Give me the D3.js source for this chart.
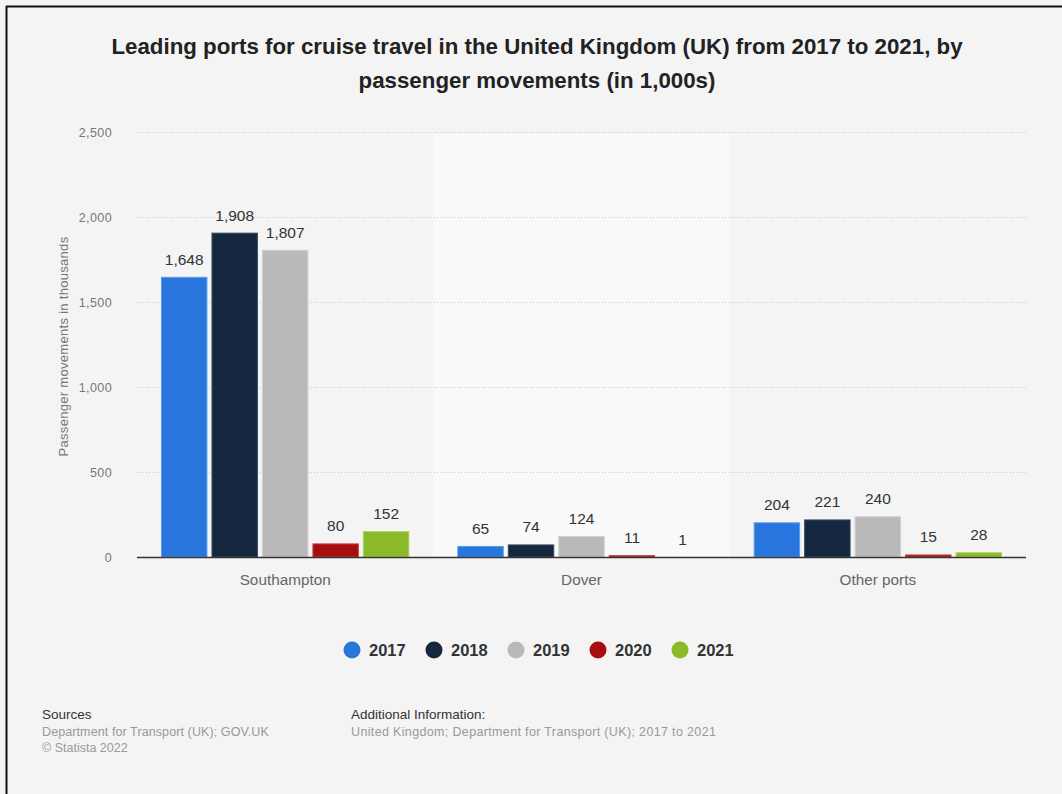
<!DOCTYPE html>
<html>
<head>
<meta charset="utf-8">
<script src="https://cdn.jsdelivr.net/npm/d3@7"></script>
<style>
html, body { margin: 0; padding: 0; background: #fff; }
svg { display: block; font-family: "Liberation Sans", Arial, sans-serif; }
</style>
</head>
<body>
<svg id="chart" width="1062" height="794"></svg>
<script>
// data
const ports = ['Southampton', 'Dover', 'Other ports'];
const years = ['2017', '2018', '2019', '2020', '2021'];
const colors = ['#2876dd', '#14273f', '#b9b9b9', '#a80c0c', '#8aba27'];
const strokes = ['#5b9ae8', '#3a4a60', '#d0d0d0', '#c24545', '#aad35c'];
const values = {
  Southampton: [1648, 1908, 1807, 80, 152],
  Dover: [65, 74, 124, 11, 1],
  'Other ports': [204, 221, 240, 15, 28]
};
const yTicks = [0, 500, 1000, 1500, 2000, 2500];

const svg = d3.select('#chart');
const W = 1062, H = 794;

// background + frame
svg.append('rect').attr('width', W).attr('height', H).attr('fill', '#f4f4f4');
svg.append('line').attr('x1', 6.5).attr('x2', 6.5).attr('y1', 6).attr('y2', H).attr('stroke', '#111').attr('stroke-width', 2);
svg.append('line').attr('x1', 6).attr('x2', W).attr('y1', 6.5).attr('y2', 6.5).attr('stroke', '#111').attr('stroke-width', 2);

// title
const title = svg.append('text').attr('text-anchor', 'middle').attr('font-weight', 'bold')
  .attr('font-size', 22.3).attr('fill', '#222');
title.append('tspan').attr('x', 537).attr('y', 54).text('Leading ports for cruise travel in the United Kingdom (UK) from 2017 to 2021, by');
title.append('tspan').attr('x', 537).attr('y', 88).text('passenger movements (in 1,000s)');

const m = { left: 137, right: 1026, top: 132, bottom: 557 };

const x0 = d3.scaleBand().domain(ports).range([m.left, m.right]);
const x1 = d3.scaleBand().domain(years).range([24, x0.bandwidth() - 24]).paddingInner(0.08);
const y = d3.scaleLinear().domain([0, 2500]).range([m.bottom, m.top]);

// highlight middle band
svg.append('rect').attr('x', x0('Dover')).attr('y', m.top + 2)
  .attr('width', x0.bandwidth()).attr('height', m.bottom - m.top - 2).attr('fill', '#f9f9f9');

// grid
const grid = svg.append('g');
grid.selectAll('line').data(yTicks.filter(d => d > 0)).join('line')
  .attr('x1', m.left).attr('x2', m.right)
  .attr('y1', d => y(d) + 0.5).attr('y2', d => y(d) + 0.5)
  .attr('stroke', '#c8c8c8').attr('stroke-dasharray', '1,2');

// y axis
const yAxis = svg.append('g').attr('transform', `translate(${m.left - 22},0)`)
  .call(d3.axisLeft(y).tickValues(yTicks).tickSize(0).tickFormat(d3.format(',')));
yAxis.select('.domain').remove();
yAxis.selectAll('text').attr('font-size', 12.5).attr('letter-spacing', 0.4).attr('fill', '#777')
  .attr('font-family', '"Liberation Sans", Arial, sans-serif');

svg.append('text').attr('transform', `translate(68,${(m.top + m.bottom) / 2 + 2}) rotate(-90)`)
  .attr('text-anchor', 'middle').attr('font-size', 13).attr('letter-spacing', 0.3).attr('fill', '#777')
  .text('Passenger movements in thousands');

// bars
const groups = svg.append('g').selectAll('g').data(ports).join('g')
  .attr('transform', d => `translate(${x0(d)},0)`);

groups.selectAll('rect').data(p => values[p].map((v, i) => ({ v, i })))
  .join('rect')
  .attr('x', d => x1(years[d.i]) + 0.5)
  .attr('y', d => y(d.v) + 0.5)
  .attr('width', x1.bandwidth() - 1)
  .attr('height', d => Math.max(0, y(0) - y(d.v) - 0.5))
  .attr('fill', d => colors[d.i])
  .attr('stroke', d => strokes[d.i]).attr('stroke-width', 1);

groups.selectAll('text').data(p => values[p].map((v, i) => ({ v, i })))
  .join('text')
  .attr('x', d => x1(years[d.i]) + x1.bandwidth() / 2)
  .attr('y', d => y(d.v) - 12)
  .attr('text-anchor', 'middle').attr('font-size', 15.5).attr('fill', '#333')
  .text(d => d3.format(',')(d.v));

// baseline
svg.append('line').attr('x1', m.left).attr('x2', m.right).attr('y1', m.bottom + 0.5).attr('y2', m.bottom + 0.5)
  .attr('stroke', '#333').attr('stroke-width', 1.5);

// x axis
const xAxis = svg.append('g').attr('transform', `translate(0,${m.bottom})`)
  .call(d3.axisBottom(x0).tickSize(0).tickPadding(17));
xAxis.select('.domain').remove();
xAxis.selectAll('text').attr('font-size', 15.3).attr('fill', '#666').attr('font-family', '"Liberation Sans", Arial, sans-serif');

// legend
const legend = svg.append('g').attr('transform', 'translate(352,650)');
const li = legend.selectAll('g').data(years).join('g').attr('transform', (d, i) => `translate(${i * 82},0)`);
li.append('circle').attr('r', 8.5).attr('fill', (d, i) => colors[i]);
li.append('text').attr('x', 17).attr('y', 6).attr('font-size', 16.5).attr('font-weight', 'bold')
  .attr('fill', '#333').text(d => d);

// footer
svg.append('text').attr('x', 42).attr('y', 719).attr('font-size', 13.5).attr('fill', '#333').text('Sources');
svg.append('text').attr('x', 42).attr('y', 736).attr('font-size', 12.5).attr('fill', '#999').attr('letter-spacing', 0.1).text('Department for Transport (UK); GOV.UK');
svg.append('text').attr('x', 42).attr('y', 752).attr('font-size', 12.5).attr('fill', '#999').text('© Statista 2022');
svg.append('text').attr('x', 351).attr('y', 719).attr('font-size', 13.5).attr('fill', '#333').text('Additional Information:');
svg.append('text').attr('x', 351).attr('y', 736).attr('font-size', 12.5).attr('fill', '#999').attr('letter-spacing', 0.35).text('United Kingdom; Department for Transport (UK); 2017 to 2021');
</script>
</body>
</html>
